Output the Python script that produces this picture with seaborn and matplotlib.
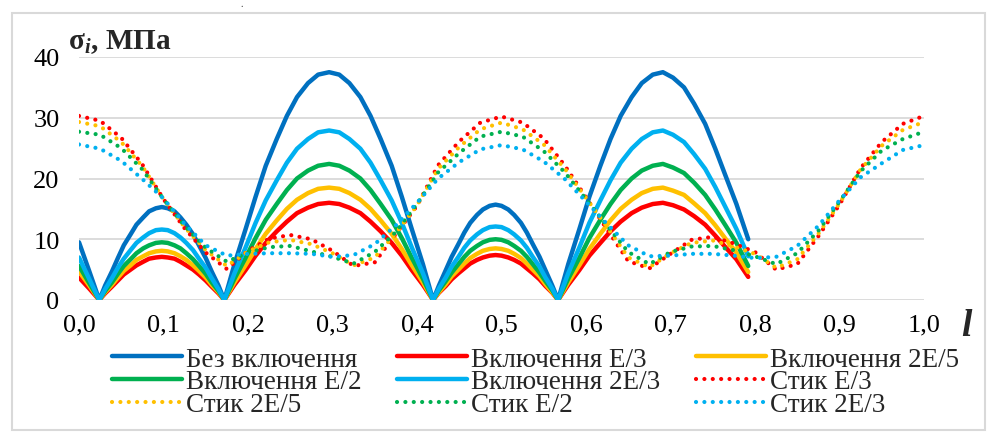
import numpy as np
import pandas as pd
import matplotlib.pyplot as plt
import seaborn as sns
from matplotlib.patches import Rectangle

# x positions (relative length l) for the "Включення" curves
x_incl = [0.0, 0.012,
          0.024, 0.031, 0.039, 0.046, 0.053, 0.061, 0.068, 0.076, 0.083, 0.091, 0.098,
          0.105, 0.113, 0.120, 0.127, 0.135, 0.142, 0.150, 0.157, 0.165, 0.172,
          0.184, 0.197, 0.209, 0.221, 0.234, 0.246, 0.258, 0.271, 0.283, 0.296,
          0.308, 0.320, 0.333, 0.345, 0.357, 0.370, 0.382, 0.394, 0.407, 0.419,
          0.426, 0.434, 0.441, 0.449, 0.456, 0.463, 0.471, 0.478, 0.486, 0.493,
          0.500, 0.508, 0.515, 0.523, 0.530, 0.537, 0.545, 0.552, 0.560, 0.567,
          0.579, 0.592, 0.604, 0.617, 0.629, 0.641, 0.654, 0.666, 0.679, 0.691,
          0.703, 0.716, 0.728, 0.741, 0.753, 0.765, 0.778, 0.792]

bez = [9.5, 4.8,
       0, 2.4, 4.7, 6.9, 9.0, 10.8, 12.4, 13.6, 14.6, 15.1, 15.3,
       15.1, 14.6, 13.6, 12.4, 10.8, 9.0, 6.9, 4.7, 2.4, 0,
       5.9, 11.6, 17.0, 22.1, 26.5, 30.3, 33.4, 35.7, 37.1, 37.5,
       37.1, 35.7, 33.4, 30.3, 26.5, 22.1, 17.0, 11.6, 5.9, 0,
       2.4, 4.9, 7.1, 9.2, 11.1, 12.7, 14.0, 14.9, 15.5, 15.7,
       15.5, 14.9, 14.0, 12.7, 11.1, 9.2, 7.1, 4.9, 2.4, 0,
       5.9, 11.6, 17.0, 22.1, 26.5, 30.3, 33.4, 35.7, 37.1, 37.5,
       36.6, 35.0, 32.3, 29.0, 24.9, 20.5, 15.8, 10.0]
incl_e3 = [3.7, 1.9,
           0, 1.1, 2.2, 3.2, 4.2, 5.0, 5.7, 6.3, 6.8, 7.0, 7.1,
           7.0, 6.8, 6.3, 5.7, 5.0, 4.2, 3.2, 2.2, 1.1, 0,
           2.5, 4.9, 7.3, 9.4, 11.3, 12.9, 14.3, 15.2, 15.8, 16.0,
           15.8, 15.2, 14.3, 12.9, 11.3, 9.4, 7.3, 4.9, 2.5, 0,
           1.2, 2.3, 3.4, 4.4, 5.2, 6.0, 6.6, 7.0, 7.3, 7.4,
           7.3, 7.0, 6.6, 6.0, 5.2, 4.4, 3.4, 2.3, 1.2, 0,
           2.5, 4.9, 7.3, 9.4, 11.3, 12.9, 14.3, 15.2, 15.8, 16.0,
           15.6, 14.9, 13.8, 12.4, 10.6, 8.7, 6.7, 3.8]
incl_2e5 = [4.7, 2.4,
            0, 1.3, 2.5, 3.7, 4.8, 5.7, 6.6, 7.2, 7.7, 8.0, 8.1,
            8.0, 7.7, 7.2, 6.6, 5.7, 4.8, 3.7, 2.5, 1.3, 0,
            2.9, 5.7, 8.4, 10.9, 13.1, 15.0, 16.5, 17.6, 18.3, 18.5,
            18.3, 17.6, 16.5, 15.0, 13.1, 10.9, 8.4, 5.7, 2.9, 0,
            1.3, 2.6, 3.9, 5.0, 6.0, 6.9, 7.6, 8.1, 8.4, 8.5,
            8.4, 8.1, 7.6, 6.9, 6.0, 5.0, 3.9, 2.6, 1.3, 0,
            2.9, 5.7, 8.4, 10.9, 13.1, 15.0, 16.5, 17.6, 18.3, 18.5,
            18.0, 17.3, 15.9, 14.3, 12.3, 10.1, 7.8, 4.6]
incl_e2 = [5.6, 2.8,
           0, 1.5, 2.9, 4.3, 5.6, 6.7, 7.7, 8.5, 9.0, 9.4, 9.5,
           9.4, 9.0, 8.5, 7.7, 6.7, 5.6, 4.3, 2.9, 1.5, 0,
           3.5, 6.9, 10.2, 13.2, 15.8, 18.1, 20.0, 21.3, 22.1, 22.4,
           22.1, 21.3, 20.0, 18.1, 15.8, 13.2, 10.2, 6.9, 3.5, 0,
           1.6, 3.1, 4.5, 5.9, 7.1, 8.1, 8.9, 9.5, 9.9, 10.0,
           9.9, 9.5, 8.9, 8.1, 7.1, 5.9, 4.5, 3.1, 1.6, 0,
           3.5, 6.9, 10.2, 13.2, 15.8, 18.1, 20.0, 21.3, 22.1, 22.4,
           21.8, 20.9, 19.3, 17.3, 14.9, 12.3, 9.4, 5.6]
incl_2e3 = [7.0, 3.5,
            0, 1.8, 3.6, 5.3, 6.8, 8.2, 9.4, 10.3, 11.0, 11.5, 11.6,
            11.5, 11.0, 10.3, 9.4, 8.2, 6.8, 5.3, 3.6, 1.8, 0,
            4.4, 8.6, 12.7, 16.4, 19.7, 22.6, 24.9, 26.5, 27.6, 27.9,
            27.6, 26.5, 24.9, 22.6, 19.7, 16.4, 12.7, 8.6, 4.4, 0,
            1.9, 3.7, 5.5, 7.1, 8.6, 9.8, 10.8, 11.5, 12.0, 12.1,
            12.0, 11.5, 10.8, 9.8, 8.6, 7.1, 5.5, 3.7, 1.9, 0,
            4.4, 8.6, 12.7, 16.4, 19.7, 22.6, 24.9, 26.5, 27.6, 27.9,
            27.2, 26.0, 24.0, 21.6, 18.6, 15.3, 11.7, 7.2]

# x positions for the "Стик" curves
x_stik = [0.0, 0.025, 0.05, 0.075, 0.1, 0.125, 0.15, 0.175, 0.2, 0.225, 0.25, 0.275, 0.3, 0.325,
          0.35, 0.375, 0.4, 0.425, 0.45, 0.475, 0.5, 0.525, 0.55, 0.575, 0.6, 0.625, 0.65,
          0.675, 0.7, 0.725, 0.75, 0.775, 0.8, 0.825, 0.85, 0.875, 0.9, 0.925, 0.95, 0.975, 1.0]

stik_e3 = [30.3, 29.5, 26.7, 22.3, 16.6, 11.8, 7.8, 5.1, 8.1, 10.1, 10.7, 10.0, 8.1, 5.6,
           6.2, 10.9, 15.5, 22.2, 26.1, 29.2, 30.2, 29.2, 26.6, 22.1, 16.9, 11.6, 6.4,
           5.2, 7.6, 9.9, 10.4, 9.3, 7.9, 5.0, 5.9, 10.5, 15.7, 21.7, 26.0, 29.0, 30.3]
stik_2e5 = [29.3, 28.6, 26.0, 22.0, 16.6, 12.0, 8.2, 5.6, 8.0, 9.5, 9.9, 9.2, 7.7, 5.7,
            7.0, 11.0, 15.6, 21.6, 25.2, 28.1, 29.2, 28.1, 25.6, 21.6, 16.8, 12.0, 7.0,
            5.4, 7.7, 9.4, 9.8, 8.8, 7.6, 5.3, 6.7, 10.9, 15.9, 21.5, 25.4, 28.0, 29.3]
stik_e2 = [27.7, 27.2, 25.0, 21.5, 16.6, 12.2, 8.6, 6.3, 7.8, 8.7, 8.9, 8.0, 7.1, 6.0,
           7.9, 11.2, 15.8, 21.0, 24.2, 26.9, 27.7, 26.9, 24.5, 21.0, 16.6, 12.2, 7.9,
           5.9, 7.9, 8.8, 8.9, 8.2, 7.2, 5.9, 7.7, 11.4, 16.2, 21.2, 24.6, 26.5, 27.7]
stik_2e3 = [25.6, 24.9, 22.9, 19.9, 16.7, 12.5, 9.0, 7.3, 7.6, 7.7, 7.7, 7.6, 7.1, 7.4,
            9.2, 12.3, 16.0, 20.0, 22.7, 24.8, 25.5, 24.8, 22.8, 19.9, 16.2, 12.5, 9.0,
            7.2, 7.3, 7.6, 7.6, 7.3, 6.9, 7.1, 8.9, 12.2, 16.4, 20.2, 22.5, 24.7, 25.5]

incl_names = ["Без включення", "Включення E/3", "Включення 2E/5", "Включення E/2", "Включення 2E/3"]
stik_names = ["Стик E/3", "Стик 2E/5", "Стик E/2", "Стик 2E/3"]
xticks = [0.0, 0.1, 0.2, 0.3, 0.4, 0.5, 0.6, 0.7, 0.8, 0.9, 1.0]
yticks = [0, 10, 20, 30, 40]

c_blue, c_red, c_yel, c_grn, c_lbl = "#0070C0", "#FF0000", "#FFC000", "#00B050", "#00B0F0"
FONT = 'Liberation Serif'

sns.set_theme(style="white")
plt.rcParams['font.family'] = [FONT, 'DejaVu Serif']
plt.rcParams['mathtext.fontset'] = 'custom'
plt.rcParams['mathtext.bf'] = 'Liberation Serif:bold'
plt.rcParams['mathtext.it'] = 'Liberation Serif:italic:bold'
plt.rcParams['mathtext.rm'] = 'Liberation Serif'

fig = plt.figure(figsize=(9.94, 4.39), dpi=100)
ax = fig.add_axes([79/994, 1 - 301/439, (924 - 79)/994, (301 - 58)/439])

for y, name, c in zip([bez, incl_e3, incl_2e5, incl_e2, incl_2e3], incl_names,
                      [c_blue, c_red, c_yel, c_grn, c_lbl]):
    sns.lineplot(x=x_incl, y=y, ax=ax, color=c, lw=3.2, label=name, sort=False,
                 solid_capstyle='round', solid_joinstyle='round')

for y, name, c in zip([stik_e3, stik_2e5, stik_e2, stik_2e3], stik_names,
                      [c_red, c_yel, c_grn, c_lbl]):
    sns.lineplot(x=x_stik, y=y, ax=ax, color=c, lw=3, label=name, sort=False,
                 linestyle=(0, (0.01, 2.0)), dash_capstyle='round')

ax.set_xlim(0, 1)
ax.set_ylim(0, 40)
ax.set_xticks(xticks)
ax.set_xticklabels([f"{t:.1f}".replace('.', ',') for t in xticks])
ax.set_yticks(yticks)
ax.tick_params(axis='both', length=0, labelsize=19, colors='black')
ax.tick_params(axis='y', pad=14)
ax.tick_params(axis='x', pad=10)
for lbl in ax.get_xticklabels() + ax.get_yticklabels():
    lbl.set_family(FONT)
ax.yaxis.grid(True, color='#d9d9d9', lw=1.3)
ax.set_axisbelow(True)
for s in ax.spines.values():
    s.set_visible(False)
ax.set_xlabel("")
ax.set_ylabel("")

handles, labels = ax.get_legend_handles_labels()
order = [0, 3, 6, 1, 4, 7, 2, 5, 8]
ax.legend([handles[i] for i in order], [labels[i] for i in order], ncol=3,
          loc='center', bbox_to_anchor=(0.5387, 1 - 383/439), bbox_transform=fig.transFigure,
          frameon=False, prop={'family': FONT, 'size': 19.5}, handlelength=2.6,
          handletextpad=0.15, columnspacing=1.3, labelspacing=-0.08)

fig.text(68/994, 1 - 42/439, r'$\mathbf{σ}_{\mathit{i}}$, МПа', fontsize=21, family=FONT,
         fontweight='bold', va='center', ha='left')
fig.text(966/994, 1 - 326/439, 'l', fontsize=27, family=FONT, style='italic',
         fontweight='bold', va='center', ha='center')
fig.text(242/994, 1.0, '.', fontsize=7, family=FONT, va='top', ha='center')

fig.patches.append(Rectangle((12/994, 1 - 431/439), (985 - 12)/994, (431 - 14)/439,
                             transform=fig.transFigure, fill=False, ec='#d9d9d9', lw=1.5))

fig.savefig("out.png", dpi=100)
